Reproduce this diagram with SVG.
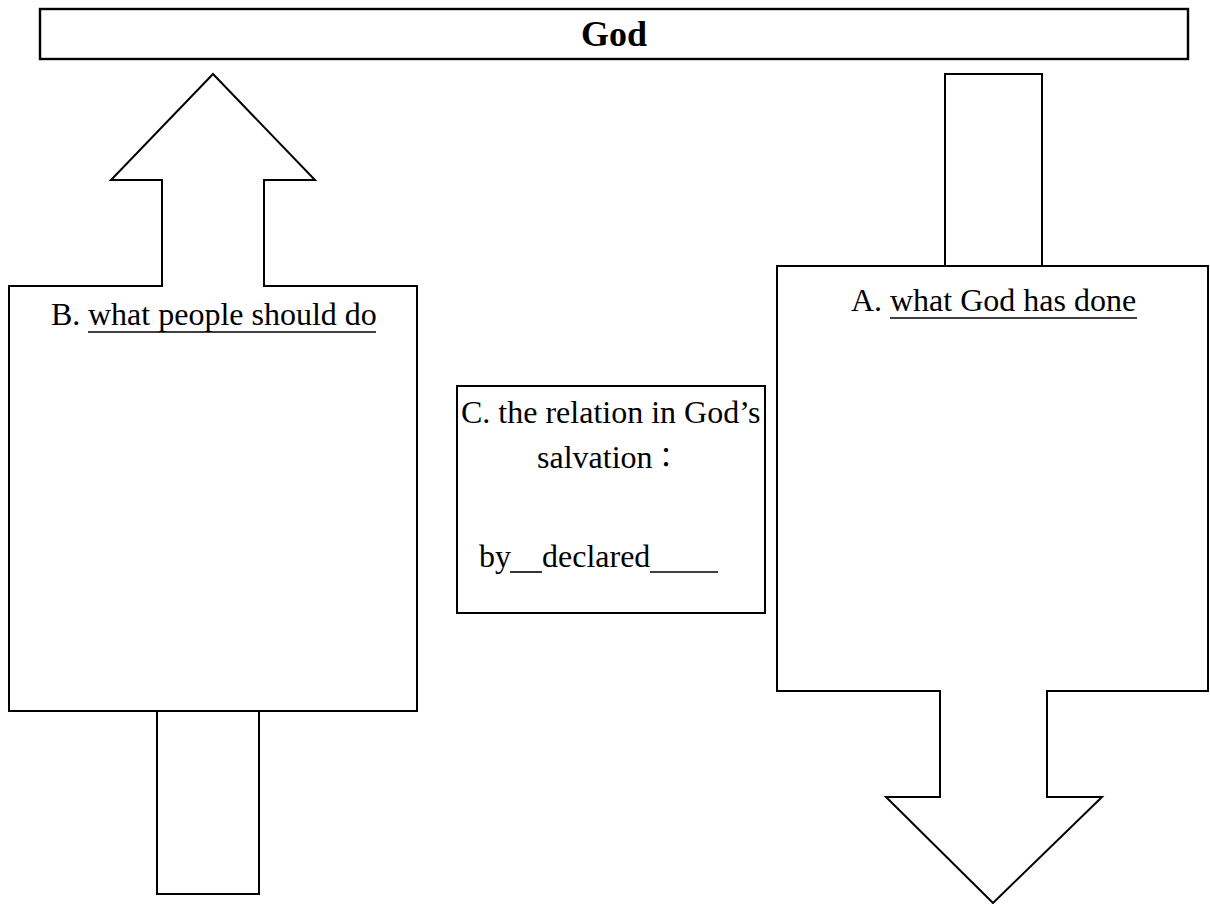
<svg xmlns="http://www.w3.org/2000/svg" width="1210" height="904" viewBox="0 0 1210 904">
<style>
.sh{fill:#fff;stroke:#000;stroke-width:2;stroke-linejoin:miter}
.t{font-family:"Liberation Serif","Times New Roman",serif;font-size:32px;fill:#000}
.b{font-family:"Liberation Serif","Times New Roman",serif;font-size:36px;font-weight:bold;fill:#000}
.cjk{font-family:"Noto Sans CJK TC","Noto Sans CJK SC",sans-serif;font-size:28px;fill:#000}
.u{stroke:#000;stroke-width:1.6}
</style>
<rect width="1210" height="904" fill="#fff"/>
<g id="god">
<rect class="sh" x="40" y="9" width="1148" height="50" style="stroke-width:2.4"/>
<text class="b" x="614" y="46" text-anchor="middle">God</text>
</g>
<g id="connectors">
<rect class="sh" x="945" y="74" width="97" height="192"/>
<rect class="sh" x="157" y="711" width="102" height="183"/>
</g>
<g id="nodeB">
<path class="sh" d="M9,286 H162 V180 H111 L213,74 L315,180 H264 V286 H417 V711 H9 Z"/>
<text class="t" x="51" y="325">B. <tspan x="88">what people should do</tspan></text>
<line class="u" x1="88" y1="332" x2="376" y2="332"/>
</g>
<g id="nodeA">
<path class="sh" d="M777,266 H1208 V691 H1047 V797 H1102 L993,903 L886,797 H940 V691 H777 Z"/>
<text class="t" x="851" y="311">A. <tspan x="890">what God has done</tspan></text>
<line class="u" x1="890" y1="318" x2="1137" y2="318"/>
</g>
<g id="nodeC">
<rect class="sh" x="457" y="386" width="308" height="227"/>
<text class="t" x="461" y="423">C. the relation in God’s</text>
<text class="t" x="537" y="468">salvation</text>
<text class="cjk" x="652" y="468">：</text>
<text class="t" x="479" y="567">by</text>
<line class="u" x1="510" y1="572" x2="542" y2="572"/>
<text class="t" x="542" y="567">declared</text>
<line class="u" x1="650" y1="572" x2="718" y2="572"/>
</g>
</svg>
